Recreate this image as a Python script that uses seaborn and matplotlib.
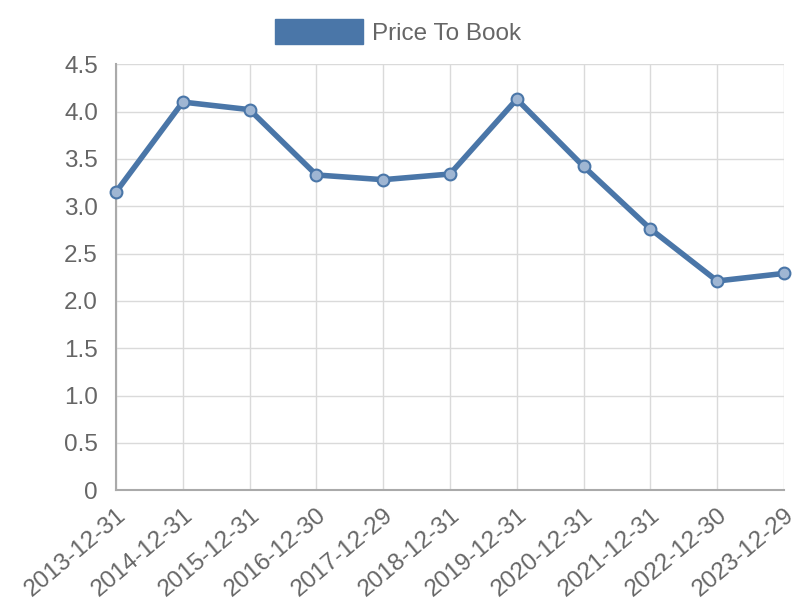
import pandas as pd
import matplotlib.pyplot as plt
import seaborn as sns
from matplotlib.patches import Patch

dates = ['2013-12-31', '2014-12-31', '2015-12-31', '2016-12-30', '2017-12-29',
         '2018-12-31', '2019-12-31', '2020-12-31', '2021-12-31', '2022-12-30',
         '2023-12-29']
price_to_book = [3.15, 4.10, 4.02, 3.33, 3.28, 3.34, 4.13, 3.42, 2.76, 2.21, 2.29]

LINE = '#4a76a8'
TEXT = '#666666'
GRID = '#dadada'
AXIS = '#aaaaaa'

df = pd.DataFrame({'idx': range(len(dates)), 'date': dates, 'value': price_to_book})

sns.set_style('white')
plt.rcParams['font.family'] = ['Liberation Sans', 'DejaVu Sans']

fig = plt.figure(figsize=(8, 6), dpi=100)
ax = fig.add_axes([0.145, 0.183, 0.835, 0.71])

sns.lineplot(data=df, x='idx', y='value', ax=ax, color=LINE, linewidth=4,
             marker='o', markersize=8.5, markerfacecolor='#9fb6d3',
             markeredgecolor=LINE, markeredgewidth=1.5, zorder=3, clip_on=False)

ax.set_xlim(0, len(dates) - 1)
ax.set_ylim(0, 4.5)
ax.set_xticks(df['idx'])
ax.set_xticklabels(dates, rotation=40, ha='right', rotation_mode='anchor')
yt = [0, 0.5, 1.0, 1.5, 2.0, 2.5, 3.0, 3.5, 4.0, 4.5]
ax.set_yticks(yt)
ax.set_yticklabels(['0'] + [f'{v:.1f}' for v in yt[1:]])
ax.set_xlabel('')
ax.set_ylabel('')

ax.grid(True, color=GRID, linewidth=1)
ax.set_axisbelow(True)
for side in ['top', 'right']:
    ax.spines[side].set_visible(False)
for side in ['left', 'bottom']:
    ax.spines[side].set_color(AXIS)
    ax.spines[side].set_linewidth(1.5)
ax.tick_params(axis='both', colors=GRID, labelcolor=TEXT, labelsize=17.5,
               length=8, width=1, direction='out')
ax.tick_params(axis='y', pad=5)
ax.tick_params(axis='x', pad=2)

handle = Patch(facecolor=LINE, edgecolor=LINE)
fig.legend([handle], ['Price To Book'], loc='center', bbox_to_anchor=(0.498, 0.947),
           frameon=False, fontsize=17.5, labelcolor=TEXT, handlelength=3.6,
           handleheight=1.25, handletextpad=0.4)

fig.savefig('out.png', dpi=100)
